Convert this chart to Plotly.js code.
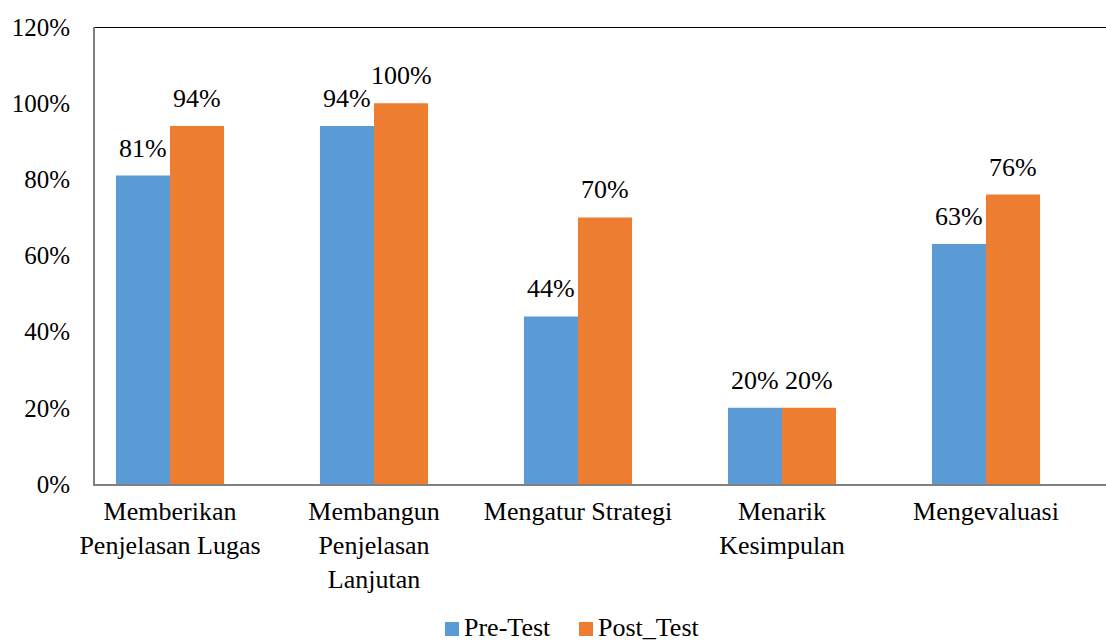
<!DOCTYPE html>
<html>
<head>
<meta charset="utf-8">
<script src="https://cdn.plot.ly/plotly-3.0.1.min.js"></script>
<style>html,body{margin:0;padding:0;background:#fff;}</style>
</head>
<body>
<div id="chart" style="width:1106px;height:642px;"></div>
<script>
const categories = ["Memberikan<br>Penjelasan Lugas", "Membangun<br>Penjelasan<br>Lanjutan", "Mengatur Strategi", "Menarik<br>Kesimpulan", "Mengevaluasi"];
const seriesNames = ["Pre-Test", "Post_Test"];
const preTest = [81, 94, 44, 20, 63];
const postTest = [94, 100, 70, 20, 76];
const yTicks = [0, 20, 40, 60, 80, 100, 120];
const colors = ["#5B9BD5", "#ED7D31"];

const FAM = "'Times New Roman', 'Liberation Serif', serif";
const font = {family: FAM, size: 26, color: "#000"};
const tickFont = {family: FAM, size: 25, color: "#000"};
const labelFont = {family: FAM, size: 26, color: "#000"};
const idx = categories.map((c, i) => i);
const series = [preTest, postTest];

const traces = series.map((vals, s) => ({
  type: "bar", name: seriesNames[s], x: idx, y: vals, marker: {color: colors[s]},
  hoverinfo: "none"
}));

// data labels above each bar
const annotations = [];
series.forEach((vals, s) => {
  vals.forEach((v, i) => {
    annotations.push({x: i, y: v, xref: "x", yref: "y", text: v + "%", showarrow: false,
      xanchor: "center", yanchor: "bottom", xshift: s === 0 ? -27 : 27, yshift: 11,
      font: labelFont});
  });
});

// custom legend (square swatch + text)
const P = (px) => (px - 95) / 1011;
const Q = (py) => (484 - py) / 457;
const legendX = [445, 579];
const shapes = [{type: "line", xref: "paper", yref: "y", x0: 0, x1: 1, y0: 120, y1: 120,
                 line: {color: "#000", width: 2}}];
seriesNames.forEach((n, s) => {
  shapes.push({type: "rect", xref: "paper", yref: "paper",
    x0: P(legendX[s]), x1: P(legendX[s] + 14), y0: Q(636), y1: Q(622),
    fillcolor: colors[s], line: {width: 0}});
  annotations.push({xref: "paper", yref: "paper", x: P(legendX[s] + 17), y: Q(627),
    xanchor: "left", yanchor: "middle", text: n, showarrow: false, font: font});
});

const layout = {
  width: 1106, height: 642,
  margin: {l: 95, r: 0, t: 27, b: 158, autoexpand: false},
  paper_bgcolor: "#fff", plot_bgcolor: "#fff",
  font: font,
  barmode: "group", bargap: 0.47, bargroupgap: 0,
  showlegend: false,
  xaxis: {range: [-75/204, 4 + 120/204], tickmode: "array", tickvals: idx, ticktext: categories,
          showline: true, linecolor: "#808080", linewidth: 2, ticks: "", showgrid: false,
          zeroline: false, tickfont: font, ticklabelstandoff: 3, fixedrange: true, automargin: false},
  yaxis: {range: [0, 120], tickmode: "array", tickvals: yTicks, ticktext: yTicks.map(v => v + "%"),
          showline: true, linecolor: "#808080", linewidth: 2, ticks: "", showgrid: false,
          zeroline: false, tickfont: tickFont, ticklabelstandoff: 18, fixedrange: true, automargin: false},
  shapes: shapes,
  annotations: annotations
};

Plotly.newPlot("chart", traces, layout, {displayModeBar: false, staticPlot: true});
</script>
</body>
</html>
